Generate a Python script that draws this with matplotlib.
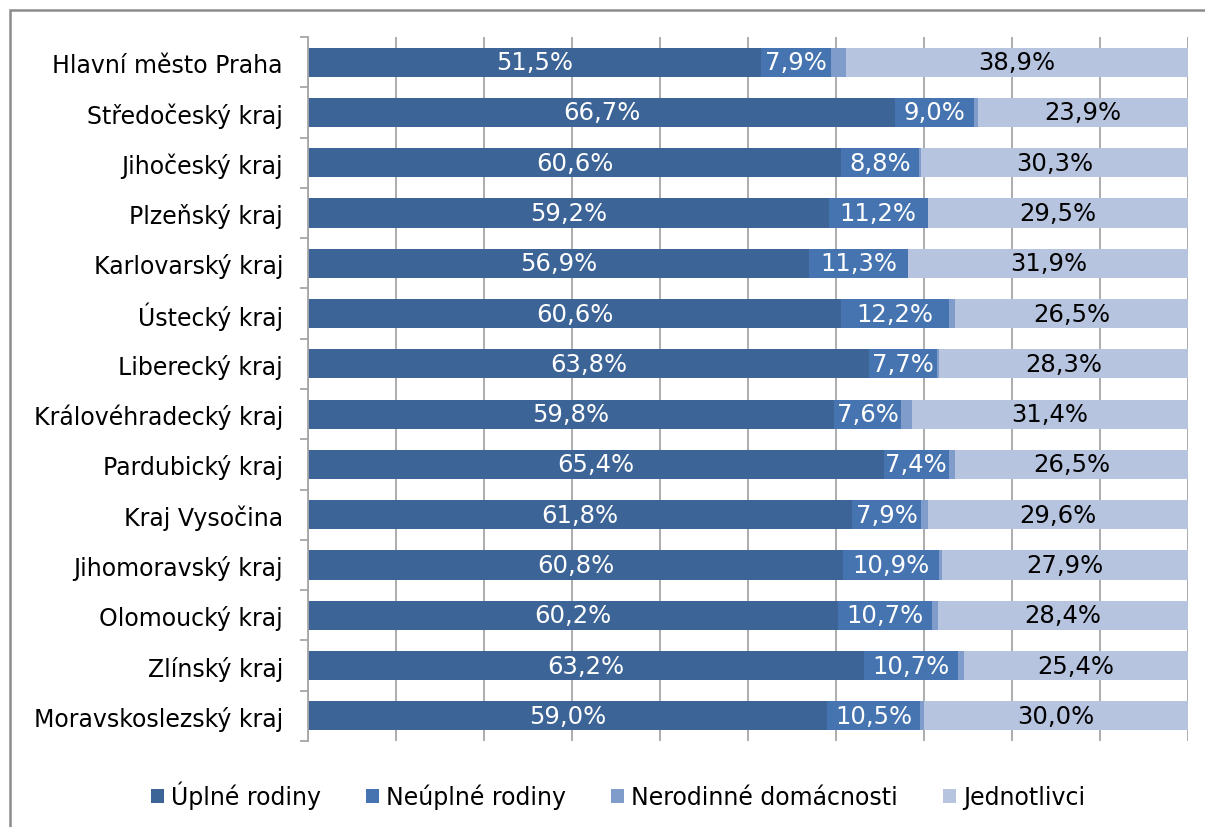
import matplotlib.pyplot as plt
from matplotlib.patches import Patch, Rectangle

regions = [
    "Hlavní město Praha",
    "Středočeský kraj",
    "Jihočeský kraj",
    "Plzeňský kraj",
    "Karlovarský kraj",
    "Ústecký kraj",
    "Liberecký kraj",
    "Královéhradecký kraj",
    "Pardubický kraj",
    "Kraj Vysočina",
    "Jihomoravský kraj",
    "Olomoucký kraj",
    "Zlínský kraj",
    "Moravskoslezský kraj",
]

uplne = [51.5, 66.7, 60.6, 59.2, 56.9, 60.6, 63.8, 59.8, 65.4, 61.8, 60.8, 60.2, 63.2, 59.0]
neuplne = [7.9, 9.0, 8.8, 11.2, 11.3, 12.2, 7.7, 7.6, 7.4, 7.9, 10.9, 10.7, 10.7, 10.5]
nerodinne = [1.7, 0.4, 0.3, 0.1, 0.0, 0.7, 0.2, 1.2, 0.7, 0.7, 0.4, 0.7, 0.7, 0.5]
jednotlivci = [38.9, 23.9, 30.3, 29.5, 31.9, 26.5, 28.3, 31.4, 26.5, 29.6, 27.9, 28.4, 25.4, 30.0]

series = [
    ("Úplné rodiny", uplne, "#3d6496", "white"),
    ("Neúplné rodiny", neuplne, "#4674b0", "white"),
    ("Nerodinné domácnosti", nerodinne, "#7f9ccb", None),
    ("Jednotlivci", jednotlivci, "#b7c4df", "black"),
]

plt.rcParams["font.family"] = ["DejaVu Sans"]
FS = 17

fig = plt.figure(figsize=(12.05, 8.28), dpi=100)
ax = fig.add_axes([308 / 1205, 1 - 742 / 828, 880 / 1205, 704 / 828])

y = list(range(len(regions)))
left = [0.0] * len(regions)
for name, vals, color, tcolor in series:
    bars = ax.barh(y, vals, left=left, height=0.58, color=color, label=name, zorder=2)
    if tcolor:
        for b, v in zip(bars, vals):
            ax.text(b.get_x() + b.get_width() / 2, b.get_y() + b.get_height() / 2,
                    f"{v:.1f}%".replace(".", ","), ha="center", va="center",
                    color=tcolor, fontsize=17.5, zorder=3)
    left = [l + v for l, v in zip(left, vals)]

ax.set_xlim(0, 100)
ax.set_ylim(len(regions) - 0.5, -0.5)
ax.set_xticks(range(0, 101, 10))
ax.set_xticklabels([])
ax.tick_params(axis="x", length=0)
ax.grid(axis="x", color="#a6a6a6", linewidth=1.3, zorder=0)

ax.set_yticks(y)
ax.set_yticklabels(regions, fontsize=FS)
ax.tick_params(axis="y", length=0, pad=18)
ax.set_yticks([i - 0.5 for i in range(len(regions) + 1)], minor=True)
ax.tick_params(axis="y", which="minor", length=6, color="#a6a6a6", width=1.3)

for s in ["top", "right", "bottom"]:
    ax.spines[s].set_visible(False)
ax.spines["left"].set_color("#a6a6a6")
ax.spines["left"].set_linewidth(1.3)

handles = [Patch(facecolor=c, label=n) for n, _, c, _ in series]
fig.legend(handles=handles, loc="center", ncol=4, frameon=False, fontsize=FS,
           bbox_to_anchor=(618 / 1205, 1 - 796 / 828),
           handlelength=0.55, handleheight=0.55, handletextpad=0.3, columnspacing=1.9)

fig.patches.append(Rectangle((10 / 1205, -0.1), 1.2, 1 - 11 / 828 + 0.1,
                             transform=fig.transFigure, fill=False,
                             edgecolor="#8c8c8c", linewidth=1.8))

fig.savefig("out.png", dpi=100)
